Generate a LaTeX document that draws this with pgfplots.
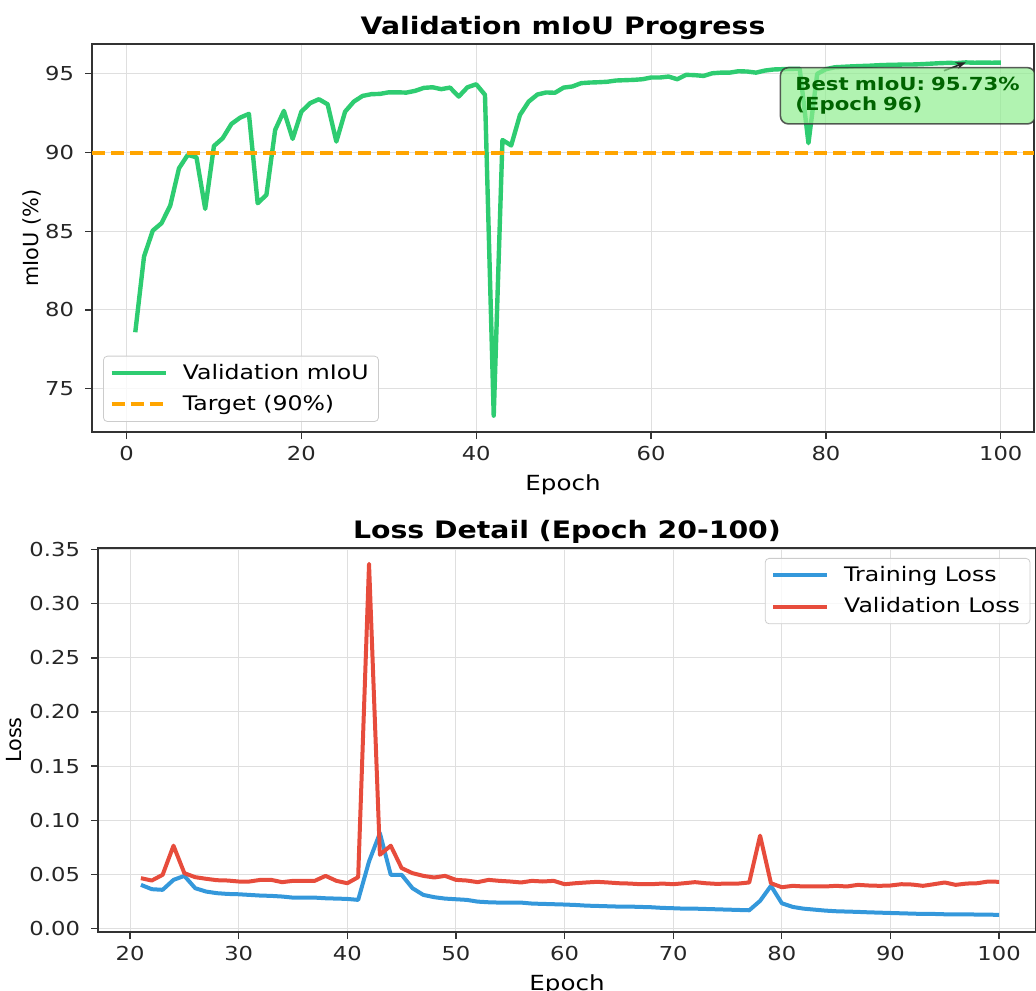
\documentclass[border=0pt]{standalone}
\usepackage{fontspec}
\setmainfont[FakeStretch=1.18]{DejaVu Sans}
\newfontfamily\plainsans{DejaVu Sans}
\usepackage{pgfplots}
\pgfplotsset{compat=1.18}
\usetikzlibrary{arrows.meta}

\definecolor{cgreen}{HTML}{2ECC71}
\definecolor{corange}{HTML}{FFA500}
\definecolor{cblue}{HTML}{3498DB}
\definecolor{cred}{HTML}{E74C3C}
\definecolor{lgreen}{HTML}{90EE90}
\definecolor{dgreen}{HTML}{006400}

\pgfplotsset{
  mpl/.style={
    scale only axis,
    axis line style={black!80, line width=0.8pt},
    tick align=outside, tick pos=left,
    major tick length=3.5pt,
    every tick/.style={black!80, line width=0.6pt},
    grid=major, grid style={gray!25, line width=0.5pt},
    /pgf/number format/assume math mode=true,
    tick label style={font=\fontsize{9.6}{11}\selectfont, black!85},
    yticklabel style={xshift=-2pt},
    label style={font=\fontsize{10.4}{12}\selectfont},
    title style={font=\fontsize{12}{14}\selectfont\bfseries, yshift=-7.5pt},
    legend cell align=left,
    legend image code/.code={\draw[##1] (0pt,0pt) -- (27pt,0pt); \path (32.5pt,0pt);},
    legend style={font=\fontsize{10}{12}\selectfont, draw=gray!40,
      rounded corners=2pt, fill=white, fill opacity=0.8, text opacity=1,
      row sep=2.5pt, inner xsep=3pt, inner ysep=2pt},
  }
}

\begin{document}
\begin{tikzpicture}
\useasboundingbox (0,0) rectangle (518pt,-495pt);

% ---- validation mIoU ----
\begin{axis}[mpl, name=top, at={(46pt,-22pt)}, anchor=north west,
  width=471pt, height=194pt,
  xmin=-3.95, xmax=103.8, ymin=72.24, ymax=96.9,
  xtick={0,20,40,60,80,100}, ytick={75,80,85,90,95},
  xlabel={Epoch}, ylabel={\plainsans mIoU (\%)}, ylabel shift=-5pt,
  title={Validation mIoU Progress},
  legend style={at={(0.0117,0.026)}, anchor=south west}]
\addplot[cgreen, line width=2.2pt, line join=round] coordinates {
(1,78.58) (2,83.39) (3,85.04) (4,85.51) (5,86.63) (6,89.0) (7,89.85) (8,89.70)
(9,86.42) (10,90.42) (11,90.91) (12,91.82) (13,92.22) (14,92.46) (15,86.78)
(16,87.31) (17,91.44) (18,92.65) (19,90.87) (20,92.6) (21,93.14) (22,93.39)
(23,93.07) (24,90.70) (25,92.6) (26,93.24) (27,93.6) (28,93.71) (29,93.73)
(30,93.83) (31,93.83) (32,93.81) (33,93.92) (34,94.11) (35,94.15) (36,94.03)
(37,94.13) (38,93.56) (39,94.15) (40,94.34) (41,93.67) (42,73.28) (43,90.8)
(44,90.45) (45,92.39) (46,93.24) (47,93.69) (48,93.82) (49,93.8) (50,94.13)
(51,94.2) (52,94.41) (53,94.45) (54,94.47) (55,94.5) (56,94.58) (57,94.6)
(58,94.62) (59,94.66) (60,94.77) (61,94.77) (62,94.83) (63,94.66) (64,94.94)
(65,94.92) (66,94.87) (67,95.04) (68,95.08) (69,95.08) (70,95.17) (71,95.15)
(72,95.08) (73,95.21) (74,95.28) (75,95.3) (76,95.32) (77,95.33) (78,90.6)
(79,95.0) (80,95.3) (81,95.42) (82,95.45) (83,95.48) (84,95.5) (85,95.52)
(86,95.55) (87,95.57) (88,95.58) (89,95.6) (90,95.6) (91,95.62) (92,95.65)
(93,95.68) (94,95.7) (95,95.69) (96,95.73) (97,95.71) (98,95.72) (99,95.71)
(100,95.72)
};
\addlegendentry{Validation mIoU}
\addplot[corange, line width=2pt, dash pattern=on 6.5pt off 3pt] coordinates {(-3.95,90) (103.8,90)};
\addlegendentry{Target (90\%)}
\draw[-{Stealth[length=5pt]}, black!85, line width=0.8pt] (axis cs:93.5,95.2) -- (axis cs:96,95.73);
\node[anchor=north west, fill=lgreen, fill opacity=0.7, text opacity=1,
  draw=black!80, draw opacity=0.8, line width=0.8pt, rounded corners=4pt,
  text=dgreen, font=\fontsize{9}{9.6}\selectfont\bfseries, align=left,
  inner xsep=7.5pt, inner ysep=5pt, minimum width=127.5pt, minimum height=28pt,
  text width=112.5pt]
  at (axis cs:74.7,95.45) {Best mIoU: 95.73\%\\(Epoch 96)};
\end{axis}

% ---- loss detail ----
\begin{axis}[mpl, name=bot, at={(49pt,-274pt)}, anchor=north west,
  width=469pt, height=192pt,
  xmin=17.05, xmax=103.4, ymin=-0.0034, ymax=0.3516,
  xtick={20,30,40,50,60,70,80,90,100},
  ytick={0,0.05,0.10,0.15,0.20,0.25,0.30,0.35},
  scaled y ticks=false,
  yticklabel style={/pgf/number format/.cd, fixed, fixed zerofill, precision=2},
  xlabel={Epoch}, ylabel={\plainsans Loss}, ylabel shift=-3pt,
  title={Loss Detail (Epoch 20-100)},
  legend style={at={(0.994,0.974)}, anchor=north east}]
\addplot[cblue, line width=2pt, line join=round] coordinates {
(21,0.0402) (22,0.0362) (23,0.0356) (24,0.0448) (25,0.0485) (26,0.0371) (27,0.034)
(28,0.0325) (29,0.0318) (30,0.0315) (31,0.0309) (32,0.0303) (33,0.030) (34,0.0294)
(35,0.0284) (36,0.0284) (37,0.0284) (38,0.0278) (39,0.0275) (40,0.0272) (41,0.0263)
(42,0.0618) (43,0.088) (44,0.0495) (45,0.0495) (46,0.0371) (47,0.0309) (48,0.0288)
(49,0.0275) (50,0.0269) (51,0.0263) (52,0.0247) (53,0.0241) (54,0.0238) (55,0.0238)
(56,0.0238) (57,0.0229) (58,0.0226) (59,0.0223) (60,0.022) (61,0.0216) (62,0.021)
(63,0.0207) (64,0.0204) (65,0.0201) (66,0.0201) (67,0.0198) (68,0.0195) (69,0.0189)
(70,0.0186) (71,0.0182) (72,0.0182) (73,0.0179) (74,0.0176) (75,0.0173) (76,0.017)
(77,0.0167) (78,0.0254) (79,0.0393) (80,0.0232) (81,0.0198) (82,0.0182) (83,0.0173)
(84,0.0164) (85,0.0158) (86,0.0155) (87,0.0152) (88,0.0148) (89,0.0145) (90,0.0142)
(91,0.0139) (92,0.0136) (93,0.0133) (94,0.0133) (95,0.013) (96,0.013) (97,0.013)
(98,0.0127) (99,0.0127) (100,0.0124)
};
\addlegendentry{Training Loss}
\addplot[cred, line width=2pt, line join=round] coordinates {
(21,0.0464) (22,0.0442) (23,0.0495) (24,0.0764) (25,0.051) (26,0.0473) (27,0.0458)
(28,0.0445) (29,0.0442) (30,0.0433) (31,0.0433) (32,0.0448) (33,0.0448) (34,0.0427)
(35,0.0439) (36,0.0439) (37,0.0439) (38,0.0485) (39,0.0439) (40,0.0417) (41,0.0473)
(42,0.337) (43,0.068) (44,0.0764) (45,0.0557) (46,0.051) (47,0.0485) (48,0.047)
(49,0.0485) (50,0.0448) (51,0.0442) (52,0.0427) (53,0.0448) (54,0.0439) (55,0.0433)
(56,0.0424) (57,0.0439) (58,0.0433) (59,0.0439) (60,0.0408) (61,0.0417) (62,0.0424)
(63,0.043) (64,0.0424) (65,0.0417) (66,0.0414) (67,0.0408) (68,0.0408) (69,0.0414)
(70,0.0408) (71,0.0417) (72,0.0427) (73,0.0417) (74,0.0411) (75,0.0414) (76,0.0414)
(77,0.0424) (78,0.0857) (79,0.0417) (80,0.038) (81,0.0393) (82,0.0387) (83,0.0387)
(84,0.0387) (85,0.0393) (86,0.0387) (87,0.0402) (88,0.0396) (89,0.0393) (90,0.0396)
(91,0.0408) (92,0.0405) (93,0.0393) (94,0.0408) (95,0.0424) (96,0.0402) (97,0.0414)
(98,0.0417) (99,0.0433) (100,0.043)
};
\addlegendentry{Validation Loss}
\end{axis}
\end{tikzpicture}
\end{document}
